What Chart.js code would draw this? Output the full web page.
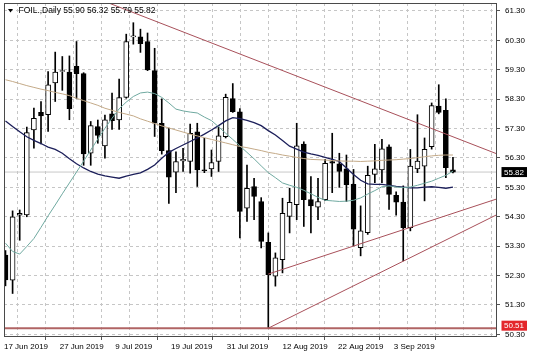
<!DOCTYPE html>
<html>
<head>
<meta charset="utf-8">
<script src="https://cdn.jsdelivr.net/npm/chart.js@4.4.1/dist/chart.umd.min.js"></script>
<style>
  html, body { margin: 0; padding: 0; background: #fff; }
  canvas { display: block; }
</style>
</head>
<body>
<canvas id="foil_Chart" width="536" height="358"></canvas>
<script>
// FOIL daily candles
const symbol_name = 'FOIL.,Daily';
const open_prices = [53.00, 52.14, 54.35, 54.36, 57.25, 57.85, 57.77, 58.85, 59.24, 59.22,
    59.42, 59.17, 56.46, 57.37, 56.71, 57.80, 57.59, 58.36, 60.42, 60.42,
    60.26, 59.27, 57.48, 56.55, 55.82, 56.20, 56.18, 57.19, 55.90, 55.93,
    56.18, 57.02, 58.32, 57.87, 54.59, 55.33, 54.82, 53.43, 52.28, 52.84,
    54.31, 54.71, 56.77, 54.88, 54.63, 54.88, 56.18, 56.10, 55.93, 55.40,
    53.25, 53.76, 55.74, 55.89, 56.68, 55.03, 54.80, 53.93, 55.93, 56.02,
    56.68, 58.06, 57.92, 55.90];
const high_prices = [53.15, 54.50, 54.53, 57.35, 58.00, 58.22, 59.24, 59.90, 59.75, 59.77,
    60.26, 59.20, 57.54, 57.59, 57.76, 58.51, 58.98, 60.51, 60.90, 60.68,
    60.55, 60.03, 58.31, 57.32, 56.51, 56.63, 57.45, 57.48, 56.97, 56.57,
    57.36, 58.47, 58.83, 57.98, 56.06, 55.61, 54.95, 53.75, 53.07, 54.93,
    55.27, 57.48, 56.85, 55.67, 55.61, 56.25, 57.14, 56.46, 56.40, 55.91,
    54.67, 56.02, 56.76, 56.93, 56.75, 55.15, 55.35, 56.59, 57.77, 56.98,
    58.17, 58.79, 58.31, 56.32];
const low_prices = [51.95, 51.69, 53.50, 54.30, 56.63, 56.78, 57.20, 58.22, 58.60, 57.60,
    58.32, 56.05, 56.05, 56.80, 56.29, 57.27, 57.27, 58.33, 60.17, 59.89,
    59.27, 57.03, 56.43, 54.75, 55.12, 55.84, 55.78, 55.33, 55.80, 55.67,
    55.84, 56.98, 57.85, 53.58, 54.14, 54.20, 53.24, 50.51, 51.94, 52.39,
    53.75, 54.20, 53.97, 53.75, 54.20, 54.85, 55.12, 55.30, 54.82, 53.31,
    52.97, 53.70, 55.46, 55.46, 54.55, 54.35, 52.80, 53.82, 55.80, 54.84,
    56.60, 57.80, 55.63, 55.79];
const close_prices = [52.15, 54.30, 54.42, 57.16, 57.65, 57.73, 58.79, 59.22, 59.27, 57.98,
    59.17, 56.44, 57.40, 57.07, 57.60, 57.57, 58.35, 60.26, 60.45, 60.19,
    59.29, 57.48, 56.55, 55.65, 56.18, 56.25, 57.14, 55.89, 55.87, 56.14,
    57.05, 58.36, 57.87, 54.48, 55.27, 54.99, 53.46, 52.33, 52.90, 54.42,
    54.79, 56.71, 54.88, 54.67, 54.82, 56.12, 56.12, 55.84, 55.39, 53.88,
    53.82, 55.71, 55.93, 56.61, 55.06, 54.80, 53.93, 56.02, 56.19, 56.59,
    58.08, 57.85, 55.97, 55.82];

// moving averages
const ma_fast = [53.40, 53.12, 53.03, 53.29, 53.56, 53.94, 54.33, 54.70, 55.08, 55.45,
    55.82, 56.19, 56.57, 56.94, 57.31, 57.65, 57.97, 58.20, 58.39, 58.51,
    58.54, 58.49, 58.36, 58.17, 57.96, 57.90, 57.86, 57.83, 57.69, 57.57,
    57.36, 57.14, 56.93, 56.71, 56.49, 56.27, 56.03, 55.80, 55.63, 55.45,
    55.37, 55.30, 55.20, 55.08, 54.96, 54.86, 54.84, 54.82, 54.83, 54.86,
    54.94, 55.07, 55.19, 55.32, 55.35, 55.31, 55.29, 55.31, 55.37, 55.44,
    55.51, 55.61, 55.71, 55.85];
const ma_mid = [57.56, 57.37, 57.19, 57.02, 56.90, 56.79, 56.67, 56.59, 56.46, 56.27,
    56.10, 55.96, 55.84, 55.75, 55.69, 55.65, 55.61, 55.68, 55.74, 55.79,
    55.91, 56.06, 56.29, 56.49, 56.62, 56.74, 56.86, 56.98, 57.11, 57.25,
    57.40, 57.56, 57.67, 57.64, 57.58, 57.50, 57.40, 57.23, 57.08, 56.89,
    56.70, 56.60, 56.50, 56.44, 56.39, 56.32, 56.25, 56.18, 55.96, 55.74,
    55.54, 55.42, 55.40, 55.40, 55.37, 55.33, 55.31, 55.28, 55.28, 55.31,
    55.32, 55.30, 55.27, 55.31];
const ma_slow = [58.96, 58.90, 58.83, 58.76, 58.70, 58.64, 58.59, 58.53, 58.48, 58.42,
    58.33, 58.25, 58.17, 58.09, 57.99, 57.92, 57.85, 57.79, 57.73, 57.63,
    57.55, 57.47, 57.39, 57.32, 57.25, 57.18, 57.11, 57.05, 56.99, 56.93,
    56.87, 56.81, 56.75, 56.69, 56.65, 56.60, 56.55, 56.49, 56.45, 56.40,
    56.36, 56.32, 56.28, 56.25, 56.24, 56.23, 56.21, 56.20, 56.19, 56.19,
    56.18, 56.19, 56.20, 56.22, 56.23, 56.24, 56.26, 56.28, 56.31, 56.34,
    56.37, 56.39, 56.40, 56.40];

// trend lines as [bar, price] pairs
const trend_down = [[14.0, 61.62], [69.6, 56.40]];
const trend_up_a = [[37.0, 52.35], [69.6, 54.94]];
const trend_up_b = [[37.0, 50.51], [69.6, 54.42]];
const support_level = 50.51;
const bid_price = 55.82;

const date_labels = ['17 Jun 2019', '27 Jun 2019', '9 Jul 2019', '19 Jul 2019',
    '31 Jul 2019', '12 Aug 2019', '22 Aug 2019', '3 Sep 2019'];
const price_ticks = [50.30, 51.30, 52.30, 53.30, 54.30, 55.30, 56.30, 57.30, 58.30, 59.30, 60.30, 61.30];

const grid_step = 3.92;   // bars between vertical grid lines (labels on every other one)
const x_min = -0.21, x_max = 69.2;
const y_min = 50.21, y_max = 61.57;
const font_family = "'Liberation Sans', Arial, sans-serif";

function to_points(values){
    return values.map((v, i) => ({x: i, y: v}));
}
function line_points(pairs){
    return pairs.map(p => ({x: p[0], y: p[1]}));
}
function flat_line(value){
    return [{x: x_min - 1, y: value}, {x: x_max + 1, y: value}];
}

const is_up = open_prices.map((o, i) => close_prices[i] >= o);

const overlay_plugin = {
    id: 'overlay',
    afterDraw(chart){
        const {ctx, chartArea, scales} = chart;
        ctx.save();
        // frame
        ctx.strokeStyle = '#4a4a4a';
        ctx.lineWidth = 1;
        ctx.strokeRect(chartArea.left + 0.5, chartArea.top + 0.5, chartArea.width - 1, chartArea.height - 1);

        // header
        ctx.fillStyle = '#000';
        ctx.beginPath();
        ctx.moveTo(8, 9);
        ctx.lineTo(13, 9);
        ctx.lineTo(10.5, 12.5);
        ctx.closePath();
        ctx.fill();
        const last = open_prices.length - 1;
        const ohlc = [open_prices[last], high_prices[last], low_prices[last], close_prices[last]];
        ctx.font = '8.5px ' + font_family;
        ctx.textBaseline = 'middle';
        ctx.textAlign = 'left';
        ctx.fillText(symbol_name + ' ' + ohlc.map(v => v.toFixed(2)).join(' '), 18.5, 11);

        // price boxes on the right axis
        ctx.font = '8px ' + font_family;
        ctx.textAlign = 'center';
        const boxes = [[bid_price, '#000000', 0], [support_level, '#e3262b', -2.5]];
        boxes.forEach(([value, bg, dy]) => {
            const y = scales.y.getPixelForValue(value) + dy;
            ctx.fillStyle = bg;
            ctx.fillRect(chartArea.right + 4.5, y - 5, 25.5, 10);
            ctx.fillStyle = '#fff';
            ctx.fillText(value.toFixed(2), chartArea.right + 17, y + 0.5);
        });
        ctx.restore();
    }
};

const chart_canvas = document.querySelector('#foil_Chart');
const foil_chart = new Chart(chart_canvas.getContext('2d'), {
    type: 'bar',
    data: {
        datasets: [
            {
                type: 'line', label: 'trend down', order: 0,
                data: line_points(trend_down),
                borderColor: '#a8505a', borderWidth: 1, pointRadius: 0
            },
            {
                type: 'line', label: 'trend up a', order: 0,
                data: line_points(trend_up_a),
                borderColor: '#a8505a', borderWidth: 1, pointRadius: 0
            },
            {
                type: 'line', label: 'trend up b', order: 0,
                data: line_points(trend_up_b),
                borderColor: '#a8505a', borderWidth: 1, pointRadius: 0
            },
            {
                type: 'line', label: 'support', order: 0,
                data: flat_line(support_level),
                borderColor: '#b06464', borderWidth: 2, pointRadius: 0
            },
            {
                type: 'line', label: 'bid', order: 5,
                data: flat_line(bid_price),
                borderColor: '#c8c8c8', borderWidth: 1, pointRadius: 0
            },
            {
                type: 'line', label: 'ma slow', order: 1,
                data: to_points(ma_slow),
                borderColor: '#c4aa88', borderWidth: 1, pointRadius: 0
            },
            {
                type: 'line', label: 'ma fast', order: 1,
                data: to_points(ma_fast),
                borderColor: '#6fa9a0', borderWidth: 1, pointRadius: 0
            },
            {
                type: 'line', label: 'ma mid', order: 1,
                data: to_points(ma_mid),
                borderColor: '#1c1f5a', borderWidth: 1.3, pointRadius: 0
            },
            {
                label: 'body', order: 2, grouped: false,
                data: open_prices.map((o, i) => ({x: i, y: [o, close_prices[i]]})),
                backgroundColor: is_up.map(up => up ? '#ffffff' : '#000000'),
                borderColor: '#000000', borderWidth: 1, borderSkipped: false,
                barThickness: 5
            },
            {
                label: 'wick', order: 3, grouped: false,
                data: low_prices.map((l, i) => ({x: i, y: [l, high_prices[i]]})),
                backgroundColor: '#000000', borderWidth: 0,
                barThickness: 1
            }
        ]
    },
    options: {
        responsive: false,
        animation: false,
        devicePixelRatio: 1,
        layout: { padding: { left: 4, top: 3, right: 0, bottom: 0 } },
        plugins: { legend: { display: false }, tooltip: { enabled: false } },
        scales: {
            x: {
                type: 'linear', min: x_min, max: x_max, offset: false,
                afterBuildTicks: (scale) => {
                    const ticks = [];
                    for (let v = x_min; v < x_max; v += grid_step) ticks.push({value: v});
                    scale.ticks = ticks;
                },
                afterFit: (scale) => {
                    scale.height = 21;
                    scale.paddingLeft = 0;
                    scale.paddingRight = 0;
                },
                grid: {
                    color: '#c6c6c6', lineWidth: 1, drawTicks: true,
                    tickLength: 3, tickBorderDash: [],
                    tickColor: (ctx) => ctx.index % 2 === 0 ? '#555' : 'rgba(0,0,0,0)'
                },
                border: { display: false, dash: [3, 3] },
                ticks: {
                    autoSkip: false, maxRotation: 0, minRotation: 0,
                    align: 'start', padding: 1.5, color: '#000',
                    font: { family: font_family, size: 8 },
                    callback: (value, index) => index % 2 === 0 ? (date_labels[index / 2] || '') : ''
                }
            },
            y: {
                position: 'right', min: y_min, max: y_max,
                afterBuildTicks: (scale) => {
                    scale.ticks = price_ticks.map(v => ({value: v}));
                },
                afterFit: (scale) => {
                    scale.width = 39;
                    scale.paddingTop = 0;
                    scale.paddingBottom = 0;
                },
                grid: {
                    color: '#c6c6c6', lineWidth: 1, drawTicks: true,
                    tickLength: 3, tickColor: '#555', tickBorderDash: []
                },
                border: { display: false, dash: [3, 3] },
                ticks: {
                    padding: 5, color: '#000',
                    font: { family: font_family, size: 8 },
                    callback: (value) => Number(value).toFixed(2)
                }
            }
        }
    },
    plugins: [overlay_plugin]
});
</script>
</body>
</html>
